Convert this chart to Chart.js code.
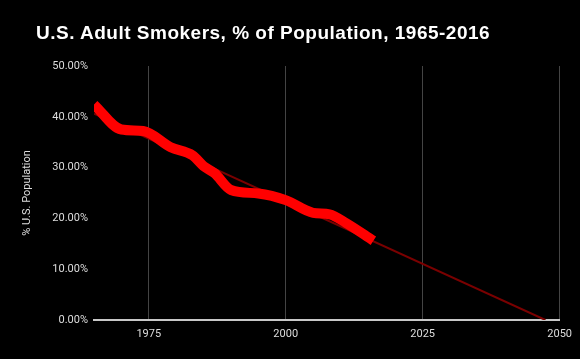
<!DOCTYPE html>
<html>
<head>
<meta charset="utf-8">
<script src="https://cdn.jsdelivr.net/npm/chart.js@4"></script>
<style>
    html, body { margin: 0; padding: 0; background: #000; }
    #wrap { position: relative; width: 580px; height: 359px; }
    #title {
        position: absolute; left: 36px; top: 22px;
        font: bold 19px "Liberation Sans", Arial, sans-serif;
        color: #fff; white-space: nowrap; letter-spacing: 0.5px;
    }
</style>
</head>
<body>
<div id="wrap">
    <div id="title">U.S. Adult Smokers, % of Population, 1965-2016</div>
    <canvas id="smokersChart" width="580" height="359"></canvas>
</div>
<script>
const years = [1965, 1970, 1974, 1979, 1983, 1985, 1987, 1990, 1995, 2000, 2005, 2008, 2011, 2016];
const smokers = [42.4, 37.5, 37.2, 34.0, 32.4, 30.3, 28.9, 25.6, 24.9, 23.6, 21.1, 20.8, 19.1, 15.6];
const trendYears = [1965, 2047.4];
const trendValues = [40.6, 0];
const xTicks = [1975, 2000, 2025, 2050];
const yTicks = [0, 10, 20, 30, 40, 50];

const tickFont = { family: 'Roboto', size: 11 };

document.addEventListener('DOMContentLoaded', function() {
    const ctx = document.getElementById('smokersChart').getContext('2d');

    new Chart(ctx, {
        type: 'line',
        data: {
            datasets: [
                {
                    label: 'Smokers',
                    data: years.map((y, i) => ({ x: y, y: smokers[i] })),
                    borderColor: '#ff0000',
                    borderWidth: 10,
                    borderCapStyle: 'butt',
                    borderJoinStyle: 'round',
                    cubicInterpolationMode: 'monotone',
                    pointRadius: 0,
                    fill: false,
                    order: 1
                },
                {
                    label: 'Trend',
                    data: trendYears.map((y, i) => ({ x: y, y: trendValues[i] })),
                    borderColor: '#7a0000',
                    borderWidth: 2,
                    pointRadius: 0,
                    fill: false,
                    order: 2
                }
            ]
        },
        options: {
            responsive: false,
            animation: false,
            layout: {
                padding: { top: 66, right: 18, bottom: 0, left: 0 }
            },
            plugins: {
                legend: { display: false },
                tooltip: { enabled: false },
                title: { display: false }
            },
            scales: {
                x: {
                    type: 'linear',
                    min: 1965,
                    max: 2050,
                    afterBuildTicks: function(axis) {
                        axis.ticks = xTicks.map(v => ({ value: v }));
                    },
                    afterFit: function(axis) {
                        axis.height = 39;
                    },
                    ticks: {
                        color: '#dddddd',
                        font: tickFont,
                        padding: 8,
                        maxRotation: 0,
                        callback: v => String(v)
                    },
                    grid: {
                        color: '#444444',
                        drawTicks: false
                    },
                    border: {
                        color: '#c8c8c8',
                        width: 2
                    }
                },
                y: {
                    min: 0,
                    max: 50,
                    afterBuildTicks: function(axis) {
                        axis.ticks = yTicks.map(v => ({ value: v }));
                    },
                    afterFit: function(axis) {
                        axis.width = 94;
                    },
                    ticks: {
                        color: '#dddddd',
                        font: tickFont,
                        padding: 6,
                        callback: v => v.toFixed(2) + '%'
                    },
                    grid: { display: false, drawTicks: false },
                    border: { display: false },
                    title: {
                        display: true,
                        text: '% U.S. Population',
                        color: '#dddddd',
                        font: tickFont,
                        padding: { top: 21, bottom: 0 }
                    }
                }
            }
        }
    });
});
</script>
</body>
</html>
